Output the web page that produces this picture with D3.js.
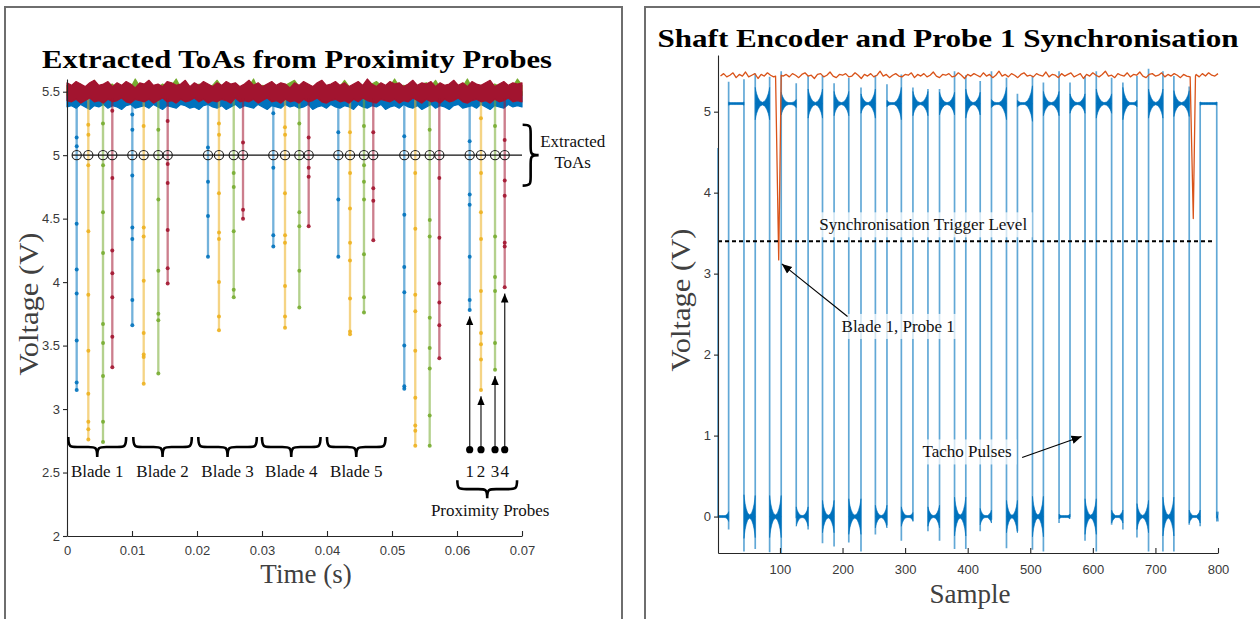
<!DOCTYPE html>
<html>
<head>
<meta charset="utf-8">
<title>Extracted ToAs and Shaft Encoder Synchronisation</title>
<script src="https://cdn.jsdelivr.net/npm/d3@7/dist/d3.min.js"></script>
<style>
  html, body { margin: 0; padding: 0; background: #ffffff; }
  svg { display: block; }
</style>
</head>
<body>
<svg id="fig" width="1260" height="619"></svg>
<script>
// ================= Left panel: proximity probe signals =================
const probeLabels = ["1", "2", "3", "4"];
const probeColors = ["#0072BD", "#EDB120", "#77AC30", "#A2142F"];
const bladeLabels = ["Blade 1", "Blade 2", "Blade 3", "Blade 4", "Blade 5"];
const bladeSpans = [[0.0002, 0.0091], [0.0102, 0.0192], [0.0202, 0.0292], [0.0300, 0.0390], [0.0400, 0.0490]];
const timeTicks = [0, 0.01, 0.02, 0.03, 0.04, 0.05, 0.06, 0.07];
const voltTicksLeft = [2, 2.5, 3, 3.5, 4, 4.5, 5, 5.5];
const toaLevel = 5;
const probeBaseline = 5.45;

// time of arrival of each blade at each probe (s)
const toaProbe1 = [0.00149, 0.01005, 0.02169, 0.03174, 0.04174, 0.05189, 0.06195];
const toaProbe2 = [0.00328, 0.01180, 0.02338, 0.03354, 0.04354, 0.05358, 0.06369];
const toaProbe3 = [0.00554, 0.01405, 0.02565, 0.03574, 0.04569, 0.05580, 0.06585];
const toaProbe4 = [0.00697, 0.01549, 0.02708, 0.03718, 0.04712, 0.05728, 0.06734];

// sampled voltages while each blade passes each probe (V)
const dipProbe1 = [
  [5.14, 5.07, 4.46, 4.10, 3.91, 3.54, 3.21, 3.15],
  [5.32, 5.20, 4.84, 4.43, 4.34, 3.86, 3.66],
  [5.06, 4.79, 4.52, 4.20],
  [5.33, 4.90, 4.37, 4.28],
  [5.18, 4.65, 4.20],
  [5.15, 4.53, 4.12, 3.92, 3.50, 3.18, 3.16],
  [5.11, 4.69, 4.61, 4.20, 3.86, 3.78]
];
const dipProbe2 = [
  [5.24, 5.16, 4.92, 4.40, 3.90, 3.46, 3.12, 2.90, 2.84, 2.76],
  [5.23, 4.43, 4.36, 4.01, 3.60, 3.43, 3.41, 3.20],
  [5.25, 5.16, 4.70, 4.39, 4.34, 4.00, 3.73, 3.62],
  [5.22, 5.16, 4.70, 4.37, 4.31, 3.97, 3.73, 3.64],
  [5.18, 4.86, 4.58, 4.31, 4.17, 3.87, 3.61, 3.59],
  [4.86, 4.42, 3.90, 3.77, 3.46, 3.09, 2.87, 2.83, 2.71],
  [5.29, 4.86, 4.55, 4.34, 3.93, 3.60, 3.51, 3.39, 3.15]
];
const dipProbe3 = [
  [5.25, 4.92, 4.55, 4.23, 3.67, 3.52, 3.26, 2.90, 2.74],
  [5.20, 4.65, 4.09, 3.75, 3.70, 3.28],
  [4.86, 4.75, 4.40, 3.94, 3.88],
  [5.25, 4.55, 4.44, 4.09, 3.80],
  [5.23, 4.92, 4.79, 4.65, 4.22, 3.88, 3.76],
  [5.20, 4.49, 4.36, 3.72, 3.48, 3.32, 2.95, 2.71],
  [5.23, 4.36, 4.04, 3.93, 3.52, 3.31]
];
const dipProbe4 = [
  [5.35, 4.82, 4.25, 4.07, 3.88, 3.57, 3.33],
  [5.27, 4.93, 4.78, 4.41, 4.11, 3.99],
  [5.10, 4.57, 4.50],
  [5.14, 4.90, 4.83, 4.44],
  [5.18, 4.74, 4.64, 4.33],
  [4.82, 4.35, 3.99, 3.84, 3.66, 3.40],
  [5.12, 4.80, 4.68, 4.31, 4.28, 3.96]
];

// noise envelope of the un-disturbed probe signals, one value every bandStep seconds
const bandStep = 0.0007;
const redBandUpper = [
  5.57,5.55,5.58,5.56,5.54,5.57,5.59,5.55,5.56,5.58, 5.54,5.57,5.55,5.58,5.56,5.53,5.57,5.56,5.59,5.55,
  5.56,5.54,5.58,5.57,5.55,5.56,5.59,5.54,5.57,5.55, 5.58,5.56,5.54,5.57,5.55,5.58,5.56,5.57,5.54,5.56,
  5.59,5.55,5.57,5.54,5.56,5.58,5.55,5.57,5.56,5.53, 5.57,5.55,5.58,5.56,5.54,5.57,5.59,5.55,5.56,5.58,
  5.55,5.57,5.54,5.56,5.58,5.55,5.60,5.56,5.54,5.57, 5.55,5.58,5.56,5.57,5.54,5.56,5.59,5.55,5.57,5.56,
  5.58,5.54,5.57,5.55,5.56,5.59,5.55,5.57,5.54,5.58, 5.56,5.55,5.57,5.59,5.54,5.56,5.58,5.55,5.57,5.56, 5.57
];
const redBandLower = [
  5.43,5.42,5.44,5.41,5.43,5.45,5.42,5.43,5.41,5.44, 5.42,5.43,5.45,5.42,5.41,5.44,5.43,5.42,5.44,5.41,
  5.43,5.45,5.42,5.43,5.41,5.44,5.42,5.43,5.45,5.42, 5.44,5.41,5.43,5.42,5.44,5.43,5.41,5.45,5.42,5.43,
  5.42,5.44,5.41,5.43,5.45,5.42,5.43,5.41,5.44,5.42, 5.43,5.41,5.44,5.42,5.43,5.45,5.42,5.41,5.43,5.44,
  5.42,5.43,5.41,5.44,5.42,5.45,5.43,5.42,5.41,5.44, 5.43,5.42,5.44,5.41,5.43,5.42,5.45,5.43,5.41,5.44,
  5.42,5.43,5.41,5.44,5.42,5.43,5.45,5.42,5.41,5.43, 5.44,5.42,5.43,5.41,5.44,5.42,5.43,5.45,5.42,5.43, 5.42
];
const blueBandLower = [
  5.38,5.39,5.37,5.40,5.38,5.36,5.39,5.38,5.40,5.37, 5.39,5.38,5.36,5.39,5.40,5.37,5.38,5.39,5.37,5.40,
  5.38,5.36,5.39,5.38,5.37,5.40,5.39,5.37,5.38,5.36, 5.39,5.40,5.38,5.37,5.39,5.36,5.38,5.40,5.37,5.39,
  5.38,5.37,5.40,5.38,5.36,5.39,5.38,5.37,5.40,5.38, 5.39,5.37,5.38,5.40,5.36,5.38,5.39,5.37,5.40,5.38,
  5.37,5.39,5.38,5.36,5.40,5.38,5.37,5.39,5.38,5.40, 5.36,5.38,5.39,5.37,5.40,5.38,5.37,5.39,5.36,5.38,
  5.40,5.37,5.39,5.38,5.36,5.39,5.40,5.37,5.38,5.39, 5.37,5.40,5.38,5.36,5.39,5.38,5.37,5.40,5.38,5.39, 5.38
];
const greenBandUpper = [
  5.55,5.53,5.54,5.56,5.52,5.54,5.59,5.53,5.54,5.55, 5.56,5.52,5.55,5.54,5.53,5.60,5.54,5.52,5.55,5.54,
  5.53,5.56,5.54,5.55,5.60,5.53,5.55,5.54,5.52,5.56, 5.54,5.53,5.55,5.59,5.54,5.52,5.55,5.56,5.53,5.55,
  5.54,5.60,5.52,5.55,5.53,5.56,5.54,5.53,5.55,5.57, 5.59,5.54,5.53,5.55,5.54,5.52,5.56,5.54,5.55,5.53,
  5.54,5.59,5.54,5.53,5.55,5.54,5.52,5.56,5.58,5.55, 5.53,5.54,5.60,5.54,5.55,5.53,5.54,5.52,5.56,5.57,
  5.54,5.59,5.53,5.55,5.54,5.52,5.55,5.54,5.60,5.53, 5.54,5.55,5.54,5.53,5.56,5.54,5.55,5.52,5.54,5.60, 5.55
];

// ================= Right panel: shaft encoder and probe 1 =================
const sampleTicks = [100, 200, 300, 400, 500, 600, 700, 800];
const voltTicksRight = [0, 1, 2, 3, 4, 5];
const tachoLow = 0;
const tachoHigh = 5.1;
const triggerLevel = 3.4;
const triggerSpan = [1, 795];

// sample index of every tacho transition (first one falls, then alternating)
const tachoEdges = [1, 18, 42.5, 60.5, 83.5, 102, 126, 145, 168, 186.5, 210, 229.5, 252.5, 271, 294,
  312.5, 336.5, 355, 379, 397, 420, 438, 462, 479.5, 503.5, 521, 546, 563.5, 587.5, 605.5, 630,
  648, 670.5, 689, 712, 729.5, 754, 771.5, 798];
// highest and lowest voltage reached around each transition
const tachoPeak = [4.55, 5.37, 5.40, 5.47, 5.43, 5.50, 5.35, 5.44, 5.45, 5.35, 5.42, 5.30, 5.45, 5.34,
  5.46, 5.30, 5.28, 5.28, 5.50, 5.45, 5.38, 5.50, 5.42, 5.22, 5.44, 5.36, 5.50, 5.36, 5.44, 5.50,
  5.42, 5.36, 5.44, 5.53, 5.50, 5.44, 5.31, 5.12, 5.12];
const tachoTrough = [0.0, -0.16, -0.43, -0.40, -0.44, -0.45, -0.02, -0.16, -0.33, -0.37, -0.32, -0.43,
  -0.22, -0.11, -0.30, -0.06, -0.18, -0.30, -0.40, -0.40, -0.18, -0.04, -0.39, -0.18, -0.41, -0.43,
  -0.08, -0.01, -0.30, -0.43, -0.10, -0.16, -0.26, -0.43, -0.43, -0.43, -0.10, -0.12, -0.02];
// ringing amplitude at the start and end of each level between transitions (V)
const tachoRing = [[0.01, 0.06], [0.02, 0.02], [0.27, 0.26], [0.20, 0.20], [0.26, 0.26], [0.14, 0.05],
  [0.12, 0.12], [0.18, 0.18], [0.20, 0.20], [0.15, 0.15], [0.22, 0.22], [0.12, 0.18], [0.14, 0.14],
  [0.04, 0.20], [0.12, 0.05], [0.15, 0.15], [0.12, 0.14], [0.14, 0.14], [0.24, 0.24], [0.18, 0.14],
  [0.10, 0.08], [0.05, 0.20], [0.20, 0.20], [0.04, 0.22], [0.25, 0.25], [0.15, 0.15], [0.03, 0.03],
  [0.12, 0.12], [0.22, 0.22], [0.18, 0.12], [0.08, 0.08], [0.20, 0.04], [0.16, 0.20], [0.18, 0.18],
  [0.24, 0.24], [0.16, 0.16], [0.08, 0.08], [0.02, 0.02], [0.06, 0.06]];
const sampleEnd = 800;

// probe 1 signal: one value every 5 samples from sample 0 to 800
const probe1Base = [
  5.46,5.44,5.47,5.43,5.45,5.48,5.42,5.46,5.44,5.49,5.43,5.45,5.47,5.41,5.46,5.44,5.48,5.45,5.43,5.47,
  5.44,5.44,5.46,5.43,5.47,5.45,5.42,5.46,5.48,5.44,5.45,5.41,5.46,5.47,5.43,5.45,5.49,5.44,5.42,5.46,
  5.45,5.47,5.43,5.44,5.48,5.45,5.41,5.46,5.44,5.47,5.43,5.45,5.50,5.44,5.46,5.42,5.45,5.47,5.44,5.43,
  5.46,5.45,5.48,5.42,5.46,5.44,5.47,5.43,5.45,5.49,5.44,5.42,5.46,5.45,5.47,5.43,5.44,5.48,5.45,5.41,
  5.46,5.44,5.47,5.45,5.43,5.48,5.44,5.46,5.42,5.45,5.50,5.44,5.46,5.43,5.47,5.45,5.42,5.46,5.48,5.44,
  5.45,5.43,5.47,5.45,5.44,5.49,5.43,5.46,5.45,5.42,5.47,5.44,5.46,5.48,5.43,5.45,5.47,5.41,5.46,5.44,
  5.48,5.45,5.43,5.46,5.50,5.44,5.45,5.42,5.47,5.45,5.44,5.48,5.43,5.46,5.45,5.49,5.44,5.42,5.46,5.47,
  5.44,5.45,5.48,5.43,5.46,5.44,5.47,5.45,5.42,5.46,5.44,5.45,5.45,5.46,5.43,5.47,5.44,5.48,5.45,5.44,
  5.47
];
const probe1Step = 5;
// blade passages seen by probe 1: [sample, volt]
const probe1Dips = [
  [[93, 5.44], [98, 3.17], [102, 5.45]],
  [[755.5, 5.43], [760.5, 3.68], [764, 5.44]]
];

// annotation anchors [sample, volt]
const bladeArrow = [[208, 2.47], [103, 3.12]];
const tachoArrow = [[487, 0.73], [582, 0.99]];

// ========================== drawing ==========================
const serif = "'Liberation Serif', 'Times New Roman', serif";
const sans = "'Liberation Sans', Arial, Helvetica, sans-serif";
const svg = d3.select("#fig");

const defs = svg.append("defs");
function addMarker(id, size) {
  defs.append("marker").attr("id", id)
    .attr("viewBox", "0 0 10 10").attr("refX", 10).attr("refY", 5)
    .attr("markerUnits", "userSpaceOnUse")
    .attr("markerWidth", size).attr("markerHeight", size)
    .attr("orient", "auto")
    .append("path").attr("d", "M0,0.8 L10,5 L0,9.2 Z").attr("fill", "#000");
}
addMarker("headL", 9);
addMarker("headR", 10);

// panel frames
svg.append("rect").attr("x", 5).attr("y", 7).attr("width", 617).attr("height", 680)
  .attr("fill", "none").attr("stroke", "#6e6e6e").attr("stroke-width", 2);
svg.append("rect").attr("x", 645).attr("y", 7).attr("width", 700).attr("height", 680)
  .attr("fill", "none").attr("stroke", "#6e6e6e").attr("stroke-width", 2);

function styleAxis(g) {
  g.attr("font-family", sans).attr("font-size", 13);
  g.selectAll(".domain").attr("stroke", "#262626").attr("stroke-width", 1.1);
  g.selectAll(".tick line").attr("stroke", "#262626").attr("stroke-width", 1.1);
  g.selectAll(".tick text").attr("fill", "#3a3a3a");
}

function braceDown(x1, x2, y, h) {
  const m = (x1 + x2) / 2, q = Math.min(9, (x2 - x1) / 6), yh = y + h * 0.5;
  return `M${x1},${y} C${x1},${yh} ${x1 + q * 0.2},${yh} ${x1 + q},${yh} L${m - q},${yh} ` +
    `C${m - q * 0.2},${yh} ${m},${yh} ${m},${y + h} C${m},${yh} ${m + q * 0.2},${yh} ${m + q},${yh} ` +
    `L${x2 - q},${yh} C${x2 - q * 0.2},${yh} ${x2},${yh} ${x2},${y}`;
}
function braceRight(x, y1, y2, w) {
  const m = (y1 + y2) / 2, q = Math.min(9, (y2 - y1) / 6), xw = x + w * 0.5;
  return `M${x},${y1} C${xw},${y1} ${xw},${y1 + q * 0.2} ${xw},${y1 + q} L${xw},${m - q} ` +
    `C${xw},${m - q * 0.2} ${xw},${m} ${x + w},${m} C${xw},${m} ${xw},${m + q * 0.2} ${xw},${m + q} ` +
    `L${xw},${y2 - q} C${xw},${y2 - q * 0.2} ${xw},${y2} ${x},${y2}`;
}

// ---------------- left panel ----------------
const xL = d3.scaleLinear().domain([0, 0.07]).range([67, 522]);
const yL = d3.scaleLinear().domain([2, 5.6]).range([536, 79]);
const gL = svg.append("g");

const toas = [toaProbe1, toaProbe2, toaProbe3, toaProbe4];
const dips = [dipProbe1, dipProbe2, dipProbe3, dipProbe4];
const bandTimes = redBandUpper.map((_, i) => i * bandStep);
const bandArea = (lo, hi) => d3.area()
  .x((d, i) => xL(bandTimes[i]))
  .y0((d, i) => yL(lo(i))).y1((d, i) => yL(hi(i)));
const bandFor = [
  bandArea(i => blueBandLower[i], () => probeBaseline + 0.05),
  null,
  bandArea(() => probeBaseline + 0.02, i => greenBandUpper[i]),
  bandArea(i => redBandLower[i], i => redBandUpper[i])
];
const lineL = d3.line().x(d => xL(d[0])).y(d => yL(d[1]));
const dipSampleDt = 2e-6;

probeColors.forEach((color, p) => {
  if (bandFor[p]) {
    gL.append("path").attr("d", bandFor[p](bandTimes)).attr("fill", color).attr("stroke", color)
      .attr("stroke-width", 1.2).attr("stroke-linejoin", "round");
  }
  toas[p].forEach((t0, g) => {
    const vals = dips[p][g].slice().sort((a, b) => b - a);
    const down = vals.filter((_, i) => i % 2 === 0);
    const up = vals.filter((_, i) => i % 2 === 1).reverse();
    const seq = [probeBaseline, ...down, ...up, probeBaseline];
    const pts = seq.map((v, i) => [t0 + (i - (seq.length - 1) / 2) * dipSampleDt, v]);
    gL.append("path").attr("d", lineL(pts)).attr("fill", "none")
      .attr("stroke", color).attr("stroke-opacity", 0.55).attr("stroke-width", 2.3);
    gL.selectAll(null).data(pts.slice(1, -1)).join("circle")
      .attr("cx", d => xL(d[0])).attr("cy", d => yL(d[1])).attr("r", 2)
      .attr("fill", color).attr("fill-opacity", 0.9);
  });
});

// extracted ToAs on the trigger level
const allToas = toas.flat();
gL.append("line")
  .attr("x1", xL(d3.min(allToas)) - 4.6).attr("x2", xL(0.07))
  .attr("y1", yL(toaLevel)).attr("y2", yL(toaLevel))
  .attr("stroke", "#111").attr("stroke-width", 1.1);
gL.selectAll(null).data(allToas).join("circle")
  .attr("cx", d => xL(d)).attr("cy", yL(toaLevel)).attr("r", 4.6)
  .attr("fill", "none").attr("stroke", "#1a1a1a").attr("stroke-width", 1.1);

// axes
const axL = gL.append("g").attr("transform", `translate(${xL(0)},0)`)
  .call(d3.axisLeft(yL).tickValues(voltTicksLeft).tickSizeInner(4).tickSizeOuter(0)
    .tickPadding(3).tickFormat(d => String(d)));
styleAxis(axL);
const axB = gL.append("g").attr("transform", `translate(0,${yL(2)})`)
  .call(d3.axisBottom(xL).tickValues(timeTicks).tickSizeInner(-5).tickSizeOuter(0)
    .tickPadding(10).tickFormat(d => String(d)));
styleAxis(axB);

// blade braces and labels
bladeSpans.forEach((s, i) => {
  gL.append("path").attr("d", braceDown(xL(s[0]), xL(s[1]), yL(2.78), 20))
    .attr("fill", "none").attr("stroke", "#000").attr("stroke-width", 2.6);
  gL.append("text").attr("x", xL((s[0] + s[1]) / 2)).attr("y", yL(2.465))
    .attr("text-anchor", "middle").attr("font-family", serif).attr("font-size", 17)
    .attr("fill", "#111").text(bladeLabels[i]);
});

// probe arrows (last blade pass)
const lastPass = toas.map((t, p) => ({ t: t[t.length - 1], vmin: d3.min(dips[p][dips[p].length - 1]) }));
lastPass.forEach((d, p) => {
  gL.append("line").attr("x1", xL(d.t)).attr("x2", xL(d.t))
    .attr("y1", yL(2.68)).attr("y2", yL(d.vmin - 0.05))
    .attr("stroke", "#3a3a3a").attr("stroke-width", 1.4).attr("marker-end", "url(#headL)");
  gL.append("circle").attr("cx", xL(d.t)).attr("cy", yL(2.68)).attr("r", 3.6).attr("fill", "#000");
  gL.append("text").attr("x", xL(d.t)).attr("y", yL(2.465))
    .attr("text-anchor", "middle").attr("font-family", serif).attr("font-size", 17)
    .attr("fill", "#111").text(probeLabels[p]);
});
const probeSpan = [d3.min(lastPass, d => d.t) - 0.0019, d3.max(lastPass, d => d.t) + 0.0019];
gL.append("path").attr("d", braceDown(xL(probeSpan[0]), xL(probeSpan[1]), yL(2.44), 18))
  .attr("fill", "none").attr("stroke", "#000").attr("stroke-width", 2.6);
gL.append("text").attr("x", xL((probeSpan[0] + probeSpan[1]) / 2) + 3).attr("y", yL(2.16))
  .attr("text-anchor", "middle").attr("font-family", serif).attr("font-size", 17)
  .attr("fill", "#111").text("Proximity Probes");

// extracted ToAs brace
gL.append("path").attr("d", braceRight(xL(0.0701), yL(5.24), yL(4.76), 16))
  .attr("fill", "none").attr("stroke", "#000").attr("stroke-width", 2.6);
gL.append("text").attr("x", xL(0.0778)).attr("y", yL(5.063))
  .attr("text-anchor", "middle").attr("font-family", serif).attr("font-size", 17)
  .attr("fill", "#111").text("Extracted");
gL.append("text").attr("x", xL(0.0778)).attr("y", yL(4.898))
  .attr("text-anchor", "middle").attr("font-family", serif).attr("font-size", 17)
  .attr("fill", "#111").text("ToAs");

// titles and axis labels
gL.append("text").attr("x", 297).attr("y", 68).attr("text-anchor", "middle")
  .attr("font-family", serif).attr("font-weight", "bold").attr("font-size", 26)
  .attr("textLength", 510).attr("lengthAdjust", "spacingAndGlyphs")
  .attr("fill", "#000").text("Extracted ToAs from Proximity Probes");
gL.append("text").attr("transform", "translate(38,304) rotate(-90)").attr("text-anchor", "middle")
  .attr("font-family", serif).attr("font-size", 27).attr("fill", "#404040")
  .attr("textLength", 143).attr("lengthAdjust", "spacingAndGlyphs").text("Voltage (V)");
gL.append("text").attr("x", 306).attr("y", 583).attr("text-anchor", "middle")
  .attr("font-family", serif).attr("font-size", 27).attr("fill", "#404040").text("Time (s)");

// ---------------- right panel ----------------
const xR = d3.scaleLinear().domain([1, 800]).range([718, 1218]);
const yR = d3.scaleLinear().domain([-0.45, 5.7]).range([553, 55]);
const gR = svg.append("g");

// tacho: levels with ringing envelopes
const ringFrac = [0, 0.04, 0.1, 0.2, 0.33, 0.5, 0.67, 0.8, 0.9, 0.96, 1];
const ringStart = [1, 0.82, 0.6, 0.36, 0.16, 0.04, 0, 0, 0, 0, 0];
const ringEnd = ringStart.slice().reverse();
const ringArea = d3.area().x(d => xR(d.s)).y0(d => yR(d.v - d.a)).y1(d => yR(d.v + d.a));
const levelLine = d3.line().x(d => xR(d[0])).y(d => yR(d[1]));

tachoEdges.forEach((e, i) => {
  const s0 = e, s1 = i + 1 < tachoEdges.length ? tachoEdges[i + 1] : sampleEnd;
  const lvl = i % 2 === 0 ? tachoLow : tachoHigh;
  const [a0, a1] = tachoRing[i];
  const env = ringFrac.map((f, k) => ({
    s: s0 + f * (s1 - s0), v: lvl,
    a: Math.max(a0 * ringStart[k] + a1 * ringEnd[k], 0.012)
  }));
  gR.append("path").attr("d", ringArea(env)).attr("fill", "#0072BD")
    .attr("stroke", "#0072BD").attr("stroke-width", 0.6);
  gR.append("path").attr("d", levelLine([[s0, lvl], [s1, lvl]])).attr("stroke", "#0072BD")
    .attr("stroke-width", 1.3).attr("fill", "none");
});
gR.selectAll(null).data(tachoEdges).join("line")
  .attr("x1", d => xR(d)).attr("x2", d => xR(d))
  .attr("y1", (d, i) => yR(tachoTrough[i])).attr("y2", (d, i) => yR(tachoPeak[i]))
  .attr("stroke", "#0072BD").attr("stroke-opacity", 0.62).attr("stroke-width", 1.7);

// probe 1 trace
const probeTrace = probe1Base.map((v, i) => [i * probe1Step, v])
  .filter(d => !probe1Dips.some(w => d[0] > w[0][0] - 1 && d[0] < w[w.length - 1][0] + 1))
  .concat(probe1Dips.flat())
  .sort((a, b) => a[0] - b[0]);
gR.append("path").attr("d", levelLine(probeTrace.filter(d => d[0] >= 1)))
  .attr("fill", "none").attr("stroke", "#D95319").attr("stroke-width", 1.3)
  .attr("stroke-linejoin", "round");

// synchronisation trigger level
gR.append("line").attr("x1", xR(triggerSpan[0])).attr("x2", xR(triggerSpan[1]))
  .attr("y1", yR(triggerLevel)).attr("y2", yR(triggerLevel))
  .attr("stroke", "#000").attr("stroke-width", 2).attr("stroke-dasharray", "4,3");

// axes
const axRL = gR.append("g").attr("transform", `translate(${xR(1)},0)`)
  .call(d3.axisLeft(yR).tickValues(voltTicksRight).tickSizeInner(4).tickSizeOuter(0)
    .tickPadding(3).tickFormat(d => String(d)));
styleAxis(axRL);
const axRB = gR.append("g").attr("transform", `translate(0,${yR(-0.45)})`)
  .call(d3.axisBottom(xR).tickValues(sampleTicks).tickSizeInner(-5).tickSizeOuter(0)
    .tickPadding(12).tickFormat(d => String(d)));
styleAxis(axRB);

function boxedText(g, x, y, str) {
  const t = g.append("text").attr("x", x).attr("y", y).attr("text-anchor", "middle")
    .attr("font-family", serif).attr("font-size", 17).attr("fill", "#111").text(str);
  const bb = t.node().getBBox();
  g.insert("rect", () => t.node())
    .attr("x", bb.x - 5).attr("y", bb.y - 3).attr("width", bb.width + 10).attr("height", bb.height + 6)
    .attr("fill", "#ffffff").attr("fill-opacity", 0.72);
}
boxedText(gR, xR(329), yR(3.535), "Synchronisation Trigger Level");
boxedText(gR, xR(289), yR(2.28), "Blade 1, Probe 1");
boxedText(gR, xR(399), yR(0.73), "Tacho Pulses");

gR.append("line")
  .attr("x1", xR(bladeArrow[0][0])).attr("y1", yR(bladeArrow[0][1]))
  .attr("x2", xR(bladeArrow[1][0])).attr("y2", yR(bladeArrow[1][1]))
  .attr("stroke", "#000").attr("stroke-width", 1.1).attr("marker-end", "url(#headR)");
gR.append("line")
  .attr("x1", xR(tachoArrow[0][0])).attr("y1", yR(tachoArrow[0][1]))
  .attr("x2", xR(tachoArrow[1][0])).attr("y2", yR(tachoArrow[1][1]))
  .attr("stroke", "#000").attr("stroke-width", 1.1).attr("marker-end", "url(#headR)");

gR.append("text").attr("x", 948).attr("y", 47).attr("text-anchor", "middle")
  .attr("font-family", serif).attr("font-weight", "bold").attr("font-size", 26)
  .attr("textLength", 581).attr("lengthAdjust", "spacingAndGlyphs")
  .attr("fill", "#000").text("Shaft Encoder and Probe 1 Synchronisation");
gR.append("text").attr("transform", "translate(690,300) rotate(-90)").attr("text-anchor", "middle")
  .attr("font-family", serif).attr("font-size", 27).attr("fill", "#404040")
  .attr("textLength", 143).attr("lengthAdjust", "spacingAndGlyphs").text("Voltage (V)");
gR.append("text").attr("x", 970).attr("y", 603).attr("text-anchor", "middle")
  .attr("font-family", serif).attr("font-size", 27).attr("fill", "#404040").text("Sample");
</script>
</body>
</html>
